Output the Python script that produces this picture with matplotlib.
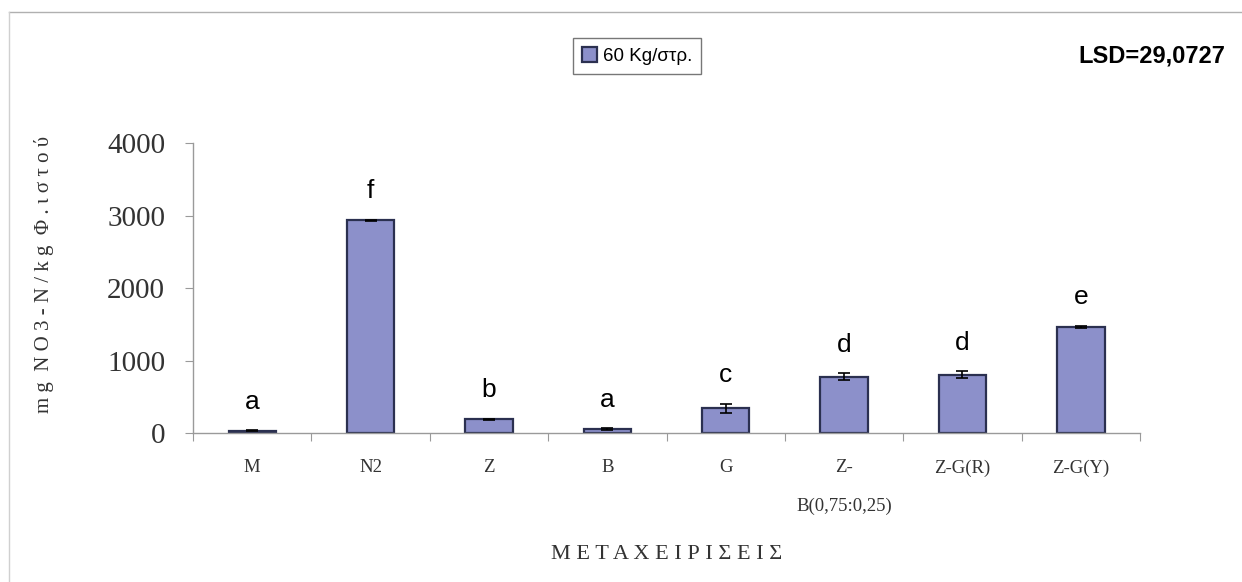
import numpy as np
import matplotlib
matplotlib.use("Agg")
import matplotlib.pyplot as plt
from matplotlib.lines import Line2D

# data
treatments = ["M", "N2", "Z", "B", "G", "Z-\nB(0,75:0,25)", "Z-G(R)", "Z-G(Y)"]
nitrate = [30, 2935, 190, 55, 340, 775, 805, 1465]
errors = [8, 10, 8, 10, 65, 50, 45, 12]
letters = ["a", "f", "b", "a", "c", "d", "d", "e"]
series_name = "60 Kg/στρ."
lsd_text = "LSD=29,0727"

fig = plt.figure(figsize=(12.42, 5.82), dpi=100)
ax = fig.add_axes([0.1554, 0.256, 0.7625, 0.498])

x = np.arange(len(treatments))
bars = ax.bar(x, nitrate, width=0.4, color="#8c90ca", edgecolor="#2b3050",
              linewidth=1.6, label=series_name, zorder=2)
ax.errorbar(x, nitrate, yerr=errors, fmt="none", ecolor="black",
            elinewidth=1.2, capsize=4, capthick=1.2, zorder=3)

for xi, v, e, l in zip(x, nitrate, errors, letters):
    ax.annotate(l, (xi, v + e), xytext=(0, 12), textcoords="offset points",
                ha="center", va="bottom", fontsize=19, family="Liberation Sans")

ax.set_xlim(-0.5, len(treatments) - 0.5)
ax.set_ylim(0, 4000)
ax.set_yticks([0, 1000, 2000, 3000, 4000])

for s in ["top", "right"]:
    ax.spines[s].set_visible(False)
for s in ["left", "bottom"]:
    ax.spines[s].set_color("#9a9a9a")
    ax.spines[s].set_linewidth(1.0)

ax.set_xticks(np.arange(-0.5, len(treatments)), minor=False)
ax.set_xticklabels([])
ax.set_xticks(x, minor=True)
ax.set_xticklabels(treatments, minor=True, family="Liberation Serif",
                   fontsize=13.5, color="#333333", linespacing=2.6, va="top")
ax.tick_params(axis="x", which="major", length=6, color="#9a9a9a", direction="out")
ax.tick_params(axis="x", which="minor", length=0, pad=19)
ax.tick_params(axis="y", length=6, color="#9a9a9a", direction="out", pad=14)
for t in ax.get_yticklabels():
    t.set_family("Liberation Serif")
    t.set_fontsize(21)
    t.set_color("#333333")

ax.set_ylabel("m g  N O 3 - N / k g  Φ . ι σ τ ο ύ", family="Liberation Serif",
              fontsize=15, color="#333333")
ax.yaxis.set_label_coords(-0.147, 0.548)
ax.set_xlabel("Μ Ε Τ Α Χ Ε Ι Ρ Ι Σ Ε Ι Σ", family="Liberation Serif",
              fontsize=16, color="#333333", labelpad=22)

leg = fig.legend(handles=[bars], labels=[series_name], loc="center",
                 bbox_to_anchor=(637 / 1242, 1 - 56 / 582), frameon=True,
                 fancybox=False, prop={"family": "Liberation Sans", "size": 13.5},
                 handlelength=0.8, handleheight=0.8, handletextpad=0.3,
                 borderpad=0.5)
leg.get_frame().set_edgecolor("#555555")
leg.get_frame().set_linewidth(1.0)

fig.text(1225 / 1242, 1 - 56 / 582, lsd_text, ha="right", va="center",
         fontsize=17, fontweight="bold", family="Liberation Sans")

# faint page frame at top and left
fig.add_artist(Line2D([9 / 1242, 1.0], [1 - 12 / 582, 1 - 12 / 582],
                      color="#b0b0b0", lw=1.0))
fig.add_artist(Line2D([9 / 1242, 9 / 1242], [0, 1 - 12 / 582],
                      color="#d0d0d0", lw=1.0))

fig.savefig("out.png", dpi=100)
